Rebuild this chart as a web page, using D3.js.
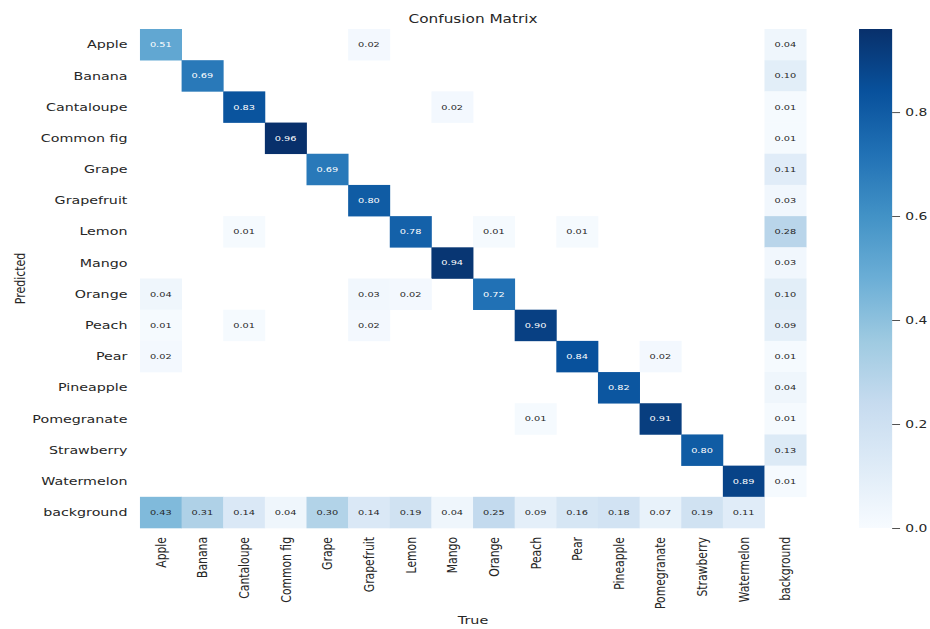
<!DOCTYPE html>
<html>
<head>
<meta charset="utf-8">
<script src="https://cdn.jsdelivr.net/npm/d3@7"></script>
<style>
  html, body { margin: 0; padding: 0; background: #fff; }
  svg { display: block; }
  text { font-family: "DejaVu Sans", sans-serif; }
</style>
</head>
<body>
<div id="chart"></div>
<script>
// ---- data ----
const trueLabels = ["Apple","Banana","Cantaloupe","Common fig","Grape","Grapefruit","Lemon","Mango","Orange","Peach","Pear","Pineapple","Pomegranate","Strawberry","Watermelon","background"];
const predictedLabels = ["Apple","Banana","Cantaloupe","Common fig","Grape","Grapefruit","Lemon","Mango","Orange","Peach","Pear","Pineapple","Pomegranate","Strawberry","Watermelon","background"];
// rows = predicted, columns = true ; 0 means hidden (empty cell)
const rowApple       = [0.51,0,0,0,0,0.02,0,0,0,0,0,0,0,0,0,0.04];
const rowBanana      = [0,0.69,0,0,0,0,0,0,0,0,0,0,0,0,0,0.10];
const rowCantaloupe  = [0,0,0.83,0,0,0,0,0.02,0,0,0,0,0,0,0,0.01];
const rowCommonFig   = [0,0,0,0.96,0,0,0,0,0,0,0,0,0,0,0,0.01];
const rowGrape       = [0,0,0,0,0.69,0,0,0,0,0,0,0,0,0,0,0.11];
const rowGrapefruit  = [0,0,0,0,0,0.80,0,0,0,0,0,0,0,0,0,0.03];
const rowLemon       = [0,0,0.01,0,0,0,0.78,0,0.01,0,0.01,0,0,0,0,0.28];
const rowMango       = [0,0,0,0,0,0,0,0.94,0,0,0,0,0,0,0,0.03];
const rowOrange      = [0.04,0,0,0,0,0.03,0.02,0,0.72,0,0,0,0,0,0,0.10];
const rowPeach       = [0.01,0,0.01,0,0,0.02,0,0,0,0.90,0,0,0,0,0,0.09];
const rowPear        = [0.02,0,0,0,0,0,0,0,0,0,0.84,0,0.02,0,0,0.01];
const rowPineapple   = [0,0,0,0,0,0,0,0,0,0,0,0.82,0,0,0,0.04];
const rowPomegranate = [0,0,0,0,0,0,0,0,0,0.01,0,0,0.91,0,0,0.01];
const rowStrawberry  = [0,0,0,0,0,0,0,0,0,0,0,0,0,0.80,0,0.13];
const rowWatermelon  = [0,0,0,0,0,0,0,0,0,0,0,0,0,0,0.89,0.01];
const rowBackground  = [0.43,0.31,0.14,0.04,0.30,0.14,0.19,0.04,0.25,0.09,0.16,0.18,0.07,0.19,0.11,0];
const colorbarTicks = [0.0, 0.2, 0.4, 0.6, 0.8];
const vmin = 0, vmax = 0.96;

const matrix = [rowApple,rowBanana,rowCantaloupe,rowCommonFig,rowGrape,rowGrapefruit,rowLemon,rowMango,rowOrange,rowPeach,rowPear,rowPineapple,rowPomegranate,rowStrawberry,rowWatermelon,rowBackground];

// ---- styles ----
const bluesStops = ["#f7fbff","#deebf7","#c6dbef","#9ecae1","#6baed6","#4292c6","#2171b5","#08519c","#08306b"];
const textDark = "#262626";

// internal drawing space is stretched horizontally to the 930x629 canvas
const W = 705, H = 629;
const mLeft = 106.1, mRight = 611.1, mTop = 29, mBottom = 528;

const svg = d3.select("#chart").append("svg")
  .attr("width", 930).attr("height", 629)
  .attr("viewBox", `0 0 ${W} ${H}`)
  .attr("preserveAspectRatio", "none");

const x = d3.scaleBand().domain(trueLabels).range([mLeft, mRight]).padding(0);
const y = d3.scaleBand().domain(predictedLabels).range([mTop, mBottom]).padding(0);
const color = d3.scaleLinear()
  .domain(d3.range(bluesStops.length).map(i => vmin + (vmax - vmin) * i / (bluesStops.length - 1)))
  .range(bluesStops).clamp(true);

function luminance(c) {
  const rgb = d3.rgb(c);
  const f = v => { v /= 255; return v <= 0.03928 ? v / 12.92 : Math.pow((v + 0.055) / 1.055, 2.4); };
  return 0.2126 * f(rgb.r) + 0.7152 * f(rgb.g) + 0.0722 * f(rgb.b);
}

const cells = [];
matrix.forEach((row, i) => row.forEach((v, j) => {
  if (v > 0) cells.push({ p: predictedLabels[i], t: trueLabels[j], v });
}));

const g = svg.append("g");
g.selectAll("rect.cell").data(cells).join("rect")
  .attr("class", "cell")
  .attr("x", d => x(d.t)).attr("y", d => y(d.p))
  .attr("width", x.bandwidth() + 0.3).attr("height", y.bandwidth() + 0.3)
  .attr("fill", d => color(d.v));

g.selectAll("text.annot").data(cells).join("text")
  .attr("class", "annot")
  .attr("x", d => x(d.t) + x.bandwidth() / 2)
  .attr("y", d => y(d.p) + y.bandwidth() / 2)
  .attr("dy", "0.35em")
  .attr("text-anchor", "middle")
  .attr("font-size", 7.4)
  .attr("fill", d => luminance(color(d.v)) > 0.408 ? textDark : "#ffffff")
  .text(d => d3.format(".2f")(d.v));

// y tick labels
svg.append("g").selectAll("text").data(predictedLabels).join("text")
  .attr("x", mLeft - 9.5)
  .attr("y", d => y(d) + y.bandwidth() / 2)
  .attr("dy", "0.35em")
  .attr("text-anchor", "end")
  .attr("font-size", 10.8)
  .attr("fill", textDark)
  .text(d => d);

// x tick labels (rotated)
svg.append("g").selectAll("text").data(trueLabels).join("text")
  .attr("transform", d => `translate(${x(d) + x.bandwidth() / 2},${mBottom + 9}) rotate(-90)`)
  .attr("dy", "0.35em")
  .attr("text-anchor", "end")
  .attr("font-size", 10.8)
  .attr("fill", textDark)
  .text(d => d);

// title and axis labels
svg.append("text")
  .attr("x", (mLeft + mRight) / 2).attr("y", 23)
  .attr("text-anchor", "middle").attr("font-size", 11.6).attr("fill", textDark)
  .text("Confusion Matrix");
svg.append("text")
  .attr("x", (mLeft + mRight) / 2).attr("y", 624)
  .attr("text-anchor", "middle").attr("font-size", 10.9).attr("fill", textDark)
  .text("True");
svg.append("text")
  .attr("transform", `translate(19,${(mTop + mBottom) / 2}) rotate(-90)`)
  .attr("text-anchor", "middle").attr("font-size", 11).attr("fill", textDark)
  .text("Predicted");

// colorbar
const cbX = 651.2, cbW = 25.1;
const defs = svg.append("defs");
const grad = defs.append("linearGradient").attr("id", "cbgrad")
  .attr("x1", 0).attr("y1", 1).attr("x2", 0).attr("y2", 0);
grad.selectAll("stop").data(bluesStops).join("stop")
  .attr("offset", (d, i) => i / (bluesStops.length - 1))
  .attr("stop-color", d => d);
svg.append("rect")
  .attr("x", cbX).attr("y", mTop).attr("width", cbW).attr("height", mBottom - mTop)
  .attr("fill", "url(#cbgrad)");

const cbScale = d3.scaleLinear().domain([vmin, vmax]).range([mBottom, mTop]);
const cbAxis = svg.append("g")
  .attr("transform", `translate(${cbX + cbW},0)`)
  .call(d3.axisRight(cbScale).tickValues(colorbarTicks).tickFormat(d3.format(".1f")).tickSize(6).tickPadding(4));
cbAxis.select(".domain").remove();
cbAxis.selectAll("line").attr("stroke", textDark).attr("stroke-width", 0.8);
cbAxis.selectAll("text").attr("font-size", 10.5).attr("fill", textDark).attr("font-family", "DejaVu Sans");
</script>
</body>
</html>
